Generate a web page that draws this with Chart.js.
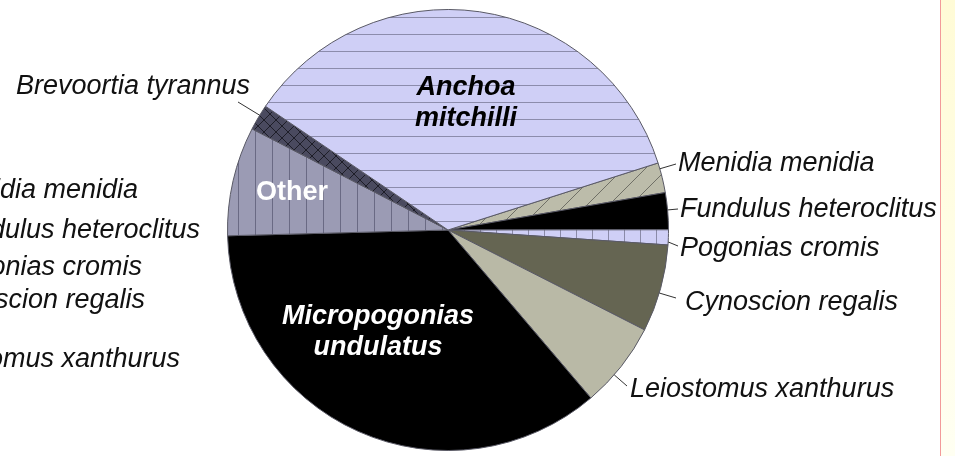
<!DOCTYPE html>
<html>
<head>
<meta charset="utf-8">
<script src="https://cdn.jsdelivr.net/npm/chart.js@4"></script>
<style>
  body { margin: 0; background: #fff; }
  canvas { display: block; }
</style>
</head>
<body>
<canvas id="fishChart" width="955" height="456"></canvas>
<script>
// slices, clockwise from the Menidia wedge just above 3 o'clock
const species = ['Menidia menidia', 'Fundulus heteroclitus', 'Pogonias cromis', 'Cynoscion regalis',
    'Leiostomus xanthurus', 'Micropogonias undulatus', 'Other', 'Brevoortia tyrannus', 'Anchoa mitchilli'];
const percent = [2.2, 2.7, 1.1, 6.4, 6.3, 35.8, 8.0, 1.9, 35.6];

// labels of the neighbouring panel, cut off at the left edge
const leftPanelLabels = ['Menidia menidia', 'Fundulus heteroclitus', 'Pogonias cromis', 'Cynoscion regalis', 'Leiostomus xanthurus'];

const FONT = '"Liberation Sans", Arial, sans-serif';

function makePattern(ctx, bg, line, size, kind) {
    const c = document.createElement('canvas');
    c.width = size;
    c.height = size;
    const g = c.getContext('2d');
    g.fillStyle = bg;
    g.fillRect(0, 0, size, size);
    g.strokeStyle = line;
    g.lineWidth = 1;
    g.beginPath();
    if (kind === 'h') {
        g.moveTo(0, 0.5); g.lineTo(size, 0.5);
    } else if (kind === 'v') {
        g.moveTo(0.5, 0); g.lineTo(0.5, size);
    }
    if (kind === 'slash' || kind === 'cross') {
        g.moveTo(-1, size + 1); g.lineTo(size + 1, -1);
        g.moveTo(-1, 1); g.lineTo(1, -1);
        g.moveTo(size - 1, size + 1); g.lineTo(size + 1, size - 1);
    }
    if (kind === 'cross') {
        g.moveTo(-1, -1); g.lineTo(size + 1, size + 1);
        g.moveTo(size - 1, -1); g.lineTo(size + 1, 1);
        g.moveTo(-1, size - 1); g.lineTo(1, size + 1);
    }
    g.stroke();
    return ctx.createPattern(c, 'repeat');
}

const canvas = document.getElementById('fishChart');
const ctx = canvas.getContext('2d');

const fills = [
    makePattern(ctx, '#bcbcaa', '#6f6f66', 22, 'slash'),
    '#000000',
    makePattern(ctx, '#cfcff6', '#8a8aa8', 16, 'v'),
    '#656552',
    '#b9b9a6',
    '#000000',
    makePattern(ctx, '#9b9bb4', '#6a6a84', 17, 'v'),
    makePattern(ctx, '#4a4a5f', '#1e1e28', 12, 'cross'),
    makePattern(ctx, '#cfcff6', '#8c8cac', 17, 'h'),
];

// outside callouts: leader end and text anchor
const callouts = {
    'Menidia menidia': { end: [676, 164], text: [678, 163], align: 'left' },
    'Fundulus heteroclitus': { end: [678, 209], text: [680, 209], align: 'left' },
    'Pogonias cromis': { end: [678, 246], text: [680, 248], align: 'left' },
    'Cynoscion regalis': { end: [676, 298], text: [685, 302], align: 'left' },
    'Leiostomus xanthurus': { end: [627, 386], text: [630, 389], align: 'left' },
    'Brevoortia tyrannus': { end: [238, 102], text: [250, 86], align: 'right' },
};

// labels inside the slices
const inside = {
    'Anchoa mitchilli': { at: [466, 103], lines: ['Anchoa', 'mitchilli'], color: '#000', style: 'italic bold' },
    'Other': { at: [292, 193], lines: ['Other'], color: '#fff', style: 'bold' },
    'Micropogonias undulatus': { at: [378, 332], lines: ['Micropogonias', 'undulatus'], color: '#fff', style: 'italic bold' },
};

const leftSpots = [[138, 190], [200, 230], [142, 267], [145, 300], [180, 359]];

const backdrop = {
    id: 'backdrop',
    beforeDraw(chart) {
        const c = chart.ctx;
        c.save();
        c.fillStyle = '#ffffff';
        c.fillRect(0, 0, chart.width, chart.height);
        const grad = c.createLinearGradient(0, 0, 0, chart.height);
        grad.addColorStop(0, '#fffbd6');
        grad.addColorStop(1, '#fffff2');
        c.fillStyle = grad;
        c.fillRect(940, 0, chart.width - 940, chart.height);
        c.fillStyle = '#f29a9a';
        c.fillRect(940, 0, 1, chart.height);

        c.fillStyle = '#111';
        c.font = 'italic 27px ' + FONT;
        c.textAlign = 'right';
        c.textBaseline = 'middle';
        leftPanelLabels.forEach((name, i) => c.fillText(name, leftSpots[i][0], leftSpots[i][1]));
        c.restore();
    },
};

const labels = {
    id: 'labels',
    afterDatasetsDraw(chart) {
        const c = chart.ctx;
        const arcs = chart.getDatasetMeta(0).data;
        c.save();
        c.textBaseline = 'middle';
        species.forEach((name, i) => {
            const arc = arcs[i];
            const call = callouts[name];
            if (call) {
                // leader leaves the rim pointing at its label, kept inside the slice
                const mid = (arc.startAngle + arc.endAngle) / 2;
                const half = (arc.endAngle - arc.startAngle) * 0.3;
                let a = Math.atan2(call.end[1] - arc.y, call.end[0] - arc.x);
                while (a < mid - Math.PI) a += 2 * Math.PI;
                while (a > mid + Math.PI) a -= 2 * Math.PI;
                a = Math.min(Math.max(a, mid - half), mid + half);
                const x0 = arc.x + Math.cos(a) * arc.outerRadius;
                const y0 = arc.y + Math.sin(a) * arc.outerRadius;
                c.strokeStyle = '#333';
                c.lineWidth = 1;
                c.beginPath();
                c.moveTo(x0, y0);
                c.lineTo(call.end[0], call.end[1]);
                c.stroke();
                c.fillStyle = '#111';
                c.font = 'italic 27px ' + FONT;
                c.textAlign = call.align;
                c.fillText(name, call.text[0], call.text[1]);
            }
            const lab = inside[name];
            if (lab) {
                c.fillStyle = lab.color;
                c.font = lab.style + ' 27px ' + FONT;
                c.textAlign = 'center';
                const top = lab.at[1] - (lab.lines.length - 1) * 15.5;
                lab.lines.forEach((ln, k) => c.fillText(ln, lab.at[0], top + k * 31));
            }
        });
        c.restore();
    },
};

new Chart(ctx, {
    type: 'pie',
    data: {
        labels: species,
        datasets: [{
            data: percent,
            backgroundColor: fills,
            borderColor: '#5a5a66',
            borderWidth: 1,
        }],
    },
    options: {
        responsive: false,
        animation: false,
        rotation: 72.3,
        layout: { padding: { left: 227, right: 286, top: 9, bottom: 5 } },
        plugins: {
            legend: { display: false },
            tooltip: { enabled: false },
        },
    },
    plugins: [backdrop, labels],
});
</script>
</body>
</html>
